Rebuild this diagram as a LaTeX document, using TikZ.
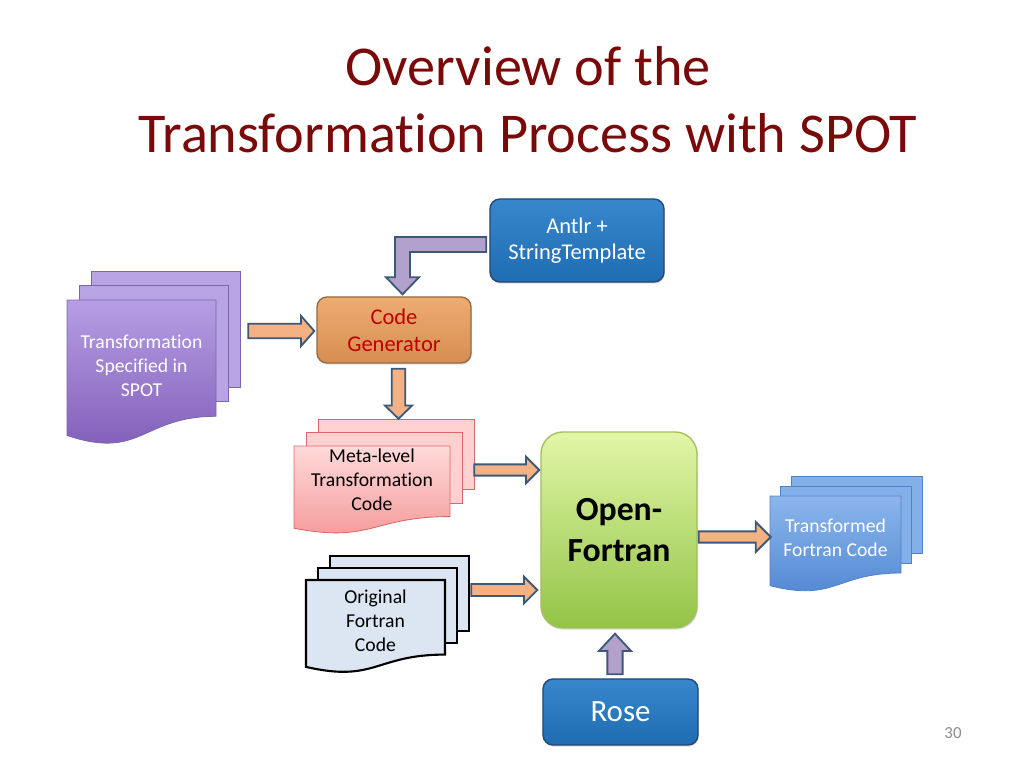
\documentclass[tikz,border=0pt]{standalone}
\usepackage{fontspec}
\setmainfont{Carlito}[Ligatures=NoCommon]
\usetikzlibrary{calc, positioning, shadows}
\definecolor{titleRed}{RGB}{122,10,10}
\definecolor{blueTop}{RGB}{56,134,204}
\definecolor{blueBot}{RGB}{30,108,178}
\definecolor{blueLine}{RGB}{38,72,115}
\definecolor{genTop}{RGB}{238,172,112}
\definecolor{genBot}{RGB}{214,142,82}
\definecolor{genLine}{RGB}{150,108,72}
\definecolor{genText}{RGB}{192,0,0}
\definecolor{ofTop}{RGB}{226,246,168}
\definecolor{ofBot}{RGB}{146,196,70}
\definecolor{ofLine}{RGB}{165,192,96}
\definecolor{spotBack}{RGB}{184,163,228}
\definecolor{spotTop}{RGB}{182,158,228}
\definecolor{spotBot}{RGB}{126,90,182}
\definecolor{spotLine}{RGB}{128,100,172}
\definecolor{metaBack}{RGB}{255,208,208}
\definecolor{metaTop}{RGB}{255,218,218}
\definecolor{metaBot}{RGB}{244,150,150}
\definecolor{metaLine}{RGB}{218,104,104}
\definecolor{origFill}{RGB}{220,230,242}
\definecolor{transBack}{RGB}{132,176,234}
\definecolor{transTop}{RGB}{140,182,236}
\definecolor{transBot}{RGB}{78,134,210}
\definecolor{transLine}{RGB}{82,130,198}
\definecolor{arrOrange}{RGB}{244,177,131}
\definecolor{arrPurple}{RGB}{178,161,204}
\definecolor{arrLine}{RGB}{62,88,120}
\definecolor{pageGray}{RGB}{140,140,140}

\pgfdeclarelayer{background}
\pgfsetlayers{background,main}

% stack of three pages behind a text node
% #1 node, #2 width, #3 top above centre, #4 height, #5 dx, #6 dy, #7 back style, #8 front style
\newcommand{\docstack}[8]{%
  \begin{pgfonlayer}{background}
    \foreach \k in {2,1}
      \draw[#7] ($(#1)+(-#2/2+\k*#5,-#3-\k*#6)$) rectangle ++(#2,0.802*#4);
    \draw[#8] ($(#1)+(-#2/2,-#3)$) -- ($(#1)+(#2/2,-#3)$) -- ($(#1)+(#2/2,-#3+0.802*#4)$)
      .. controls ($(#1)+(0,-#3+0.802*#4)$) and ($(#1)+(0,-#3+1.107*#4)$)
      .. ($(#1)+(-#2/2,-#3+0.934*#4)$) -- cycle;
  \end{pgfonlayer}}

% block arrow: #1 style, #2 from, #3 to, #4 half shaft, #5 half head, #6 head length
\newcommand{\blockarrow}[6][]{%
  \coordinate (hb) at ($(#3)!#6!(#2)$);
  \draw[arr,#1] ($(#2)!#4!90:(#3)$) -- ($(hb)!#4!-90:(#2)$) -- ($(hb)!#5!-90:(#2)$) -- (#3)
    -- ($(hb)!#5!90:(#2)$) -- ($(hb)!#4!90:(#2)$) -- ($(#2)!#4!-90:(#3)$) -- cycle;}

\begin{document}
\begin{tikzpicture}[x=0.025cm, y=-0.025cm,
  box/.style={rounded corners=0.25cm, line width=1pt, align=center, inner sep=0pt,
    drop shadow={opacity=0.25, shadow xshift=0.6pt, shadow yshift=-1.2pt}},
  bluebox/.style={box, draw=blueLine, top color=blueTop, bottom color=blueBot, text=white},
  genbox/.style={box, draw=genLine, top color=genTop, bottom color=genBot, text=genText,
    font=\fontsize{16}{19}\selectfont, minimum width=3.85cm, minimum height=1.65cm},
  ofbox/.style={box, rounded corners=0.55cm, draw=ofLine, top color=ofTop, bottom color=ofBot,
    font=\bfseries\fontsize{24}{29}\selectfont, minimum width=3.9cm, minimum height=4.9cm},
  doctext/.style={align=center, inner sep=0pt, font=\fontsize{14}{17}\selectfont},
  spotback/.style={draw=spotLine, fill=spotBack, line width=0.6pt},
  spotfront/.style={draw=spotLine, top color=spotTop, bottom color=spotBot, line width=0.6pt},
  metaback/.style={draw=metaLine, fill=metaBack, line width=0.6pt},
  metafront/.style={draw=metaLine, top color=metaTop, bottom color=metaBot, line width=0.6pt},
  origpage/.style={draw=black, fill=origFill, line width=1.5pt},
  transback/.style={draw=transLine, fill=transBack, line width=0.6pt},
  transfront/.style={draw=transLine, top color=transTop, bottom color=transBot, line width=0.6pt},
  arr/.style={draw=arrLine, line width=1.3pt, line join=miter},
  orangearr/.style={fill=arrOrange},
  purplearr/.style={fill=arrPurple}]
  \useasboundingbox (0,0) rectangle (1024,768);

  % title
  \node[text=titleRed, font=\fontsize{40}{48}\selectfont] (title1) at (528,66) {Overview of the};
  \node[text=titleRed, font=\fontsize{40}{48}\selectfont] (title2) at (528,133) {Transformation Process with SPOT};

  % tools
  \node[bluebox, font=\fontsize{16}{19}\selectfont, minimum width=4.35cm, minimum height=2.075cm]
    (antlr) at (577,240.5) {Antlr +\\StringTemplate};
  \node[genbox] (codegen) at (394,330) {Code\\Generator};
  \node[ofbox] (openf) at (619,530) {Open-\\Fortran};
  \node[bluebox, font=\fontsize{22}{26}\selectfont, minimum width=3.875cm, minimum height=1.65cm]
    (rose) at (620.5,712) {Rose};

  % documents
  \node[doctext, text=white] (spot) at (141.5,366) {Transformation\\Specified in\\SPOT};
  \docstack{spot}{149}{66}{145}{12}{14.5}{spotback}{spotfront}
  \node[doctext] (meta) at (372,480) {Meta-level\\Transformation\\Code};
  \docstack{meta}{156}{34}{88}{12}{13.5}{metaback}{metafront}
  \node[doctext] (orig) at (375.5,621) {Original\\Fortran\\Code};
  \docstack{orig}{139}{41}{93}{12}{12}{origpage}{origpage}
  \node[doctext, text=white] (trans) at (835.5,538) {Transformed\\Fortran Code};
  \docstack{trans}{131}{42}{96}{10.5}{10}{transback}{transfront}

  % arrows
  \coordinate (spot-out) at ($(codegen.west)+(-68,1)$);
  \coordinate (gen-in) at ($(codegen.west)+(-2,1)$);
  \blockarrow[orangearr]{spot-out}{gen-in}{0.18cm}{0.375cm}{0.33cm}
  \coordinate (gen-out) at ($(codegen.south)+(4.5,5)$);
  \coordinate (meta-in) at ($(codegen.south)+(4.5,55)$);
  \blockarrow[orangearr]{gen-out}{meta-in}{0.17cm}{0.34cm}{0.33cm}
  \coordinate (meta-out) at ($(openf.west)+(-66,-60)$);
  \coordinate (of-in1) at ($(openf.west)+(-1,-60)$);
  \blockarrow[orangearr]{meta-out}{of-in1}{0.14cm}{0.33cm}{0.33cm}
  \coordinate (orig-out) at ($(openf.west)+(-69,60)$);
  \coordinate (of-in2) at ($(openf.west)+(-3,60)$);
  \blockarrow[orangearr]{orig-out}{of-in2}{0.15cm}{0.33cm}{0.33cm}
  \coordinate (of-out) at ($(openf.east)+(1,7)$);
  \coordinate (trans-in) at ($(openf.east)+(73,7)$);
  \blockarrow[orangearr]{of-out}{trans-in}{0.14cm}{0.375cm}{0.375cm}
  \coordinate (rose-out) at ($(rose.north)+(-5.5,-4)$);
  \coordinate (of-in3) at ($(openf.south)+(-4,5)$);
  \blockarrow[purplearr]{rose-out}{of-in3}{0.19cm}{0.4cm}{0.43cm}
  \draw[arr, purplearr] let \p1=($(antlr.west)+(-3,4)$), \p2=($(codegen.north)+(8.5,-2)$) in
    (\x1,\y1+0.1875cm) -- (\x2-0.1875cm,\y1+0.1875cm) -- (\x2-0.1875cm,\y2+0.425cm)
    -- (\x2-0.4125cm,\y2+0.425cm) -- (\x2,\y2) -- (\x2+0.4125cm,\y2+0.425cm)
    -- (\x2+0.1875cm,\y2+0.425cm) -- (\x2+0.1875cm,\y1-0.1875cm) -- (\x1,\y1-0.1875cm) -- cycle;

  % page number
  \node[text=pageGray, font=\fontsize{12}{14}\selectfont] (pagenum) at (953,733) {30};
\end{tikzpicture}
\end{document}
